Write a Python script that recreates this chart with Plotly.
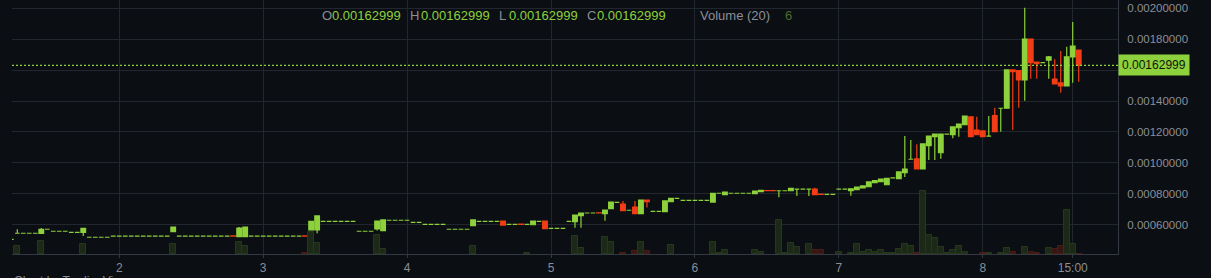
import plotly.graph_objects as go
import pandas as pd

# ---------------- data (hourly candles, day 1 06:00 -> day 8 16:00) ----------------
BASE = pd.Timestamp("2018-01-01")
first_hour = 6

open_ = [
    0.000505, 0.000544, 0.000544, 0.000544, 0.000544, 0.000543, 0.000570, 0.000557, 0.000557, 0.000557,
    0.000550, 0.000550, 0.000550, 0.000518, 0.000518, 0.000518, 0.000518, 0.000526, 0.000526, 0.000526,
    0.000526, 0.000526, 0.000526, 0.000526, 0.000526, 0.000526, 0.000526, 0.000554, 0.000526, 0.000526,
    0.000526, 0.000526, 0.000526, 0.000526, 0.000526, 0.000526, 0.000526, 0.000527, 0.000522, 0.000522,
    0.000526, 0.000526, 0.000526, 0.000526, 0.000526, 0.000526, 0.000526, 0.000526, 0.000526, 0.000527,
    0.000565, 0.000565, 0.000621, 0.000621, 0.000621, 0.000621, 0.000621, 0.000621, 0.000557, 0.000557,
    0.000557, 0.000572, 0.000561, 0.000628, 0.000628, 0.000628, 0.000628, 0.000615, 0.000615, 0.000602,
    0.000602, 0.000602, 0.000602, 0.000570, 0.000570, 0.000570, 0.000570, 0.000593, 0.000621, 0.000621,
    0.000621, 0.000621, 0.000623, 0.000602, 0.000602, 0.000603, 0.000602, 0.000599, 0.000621, 0.000623,
    0.000576, 0.000576, 0.000576, 0.000621, 0.000619, 0.000658, 0.000675, 0.000675, 0.000676, 0.000671,
    0.000703, 0.000744, 0.000733, 0.000693, 0.000714, 0.000671, 0.000759, 0.000686, 0.000686, 0.000684,
    0.000748, 0.000770, 0.000757, 0.000757, 0.000757, 0.000757, 0.000757, 0.000746, 0.000803, 0.000794,
    0.000803, 0.000803, 0.000803, 0.000803, 0.000800, 0.000814, 0.000820, 0.000820, 0.000819, 0.000819,
    0.000819, 0.000829, 0.000829, 0.000829, 0.000830, 0.000797, 0.000796, 0.000796, 0.000829, 0.000829,
    0.000819, 0.000826, 0.000837, 0.000845, 0.000871, 0.000878, 0.000858, 0.000902, 0.000897, 0.000936,
    0.001023, 0.001025, 0.000960, 0.001111, 0.001169, 0.001065, 0.001186, 0.001182, 0.001227, 0.001247,
    0.001298, 0.001212, 0.001206, 0.001173, 0.001305, 0.001353, 0.001353, 0.001601, 0.001596, 0.001536,
    0.001801, 0.001652, 0.001648, 0.001665, 0.001542, 0.001517, 0.001497, 0.001685, 0.001730,
]
high_ = [
    0.000505, 0.000570, 0.000544, 0.000544, 0.000544, 0.000578, 0.000570, 0.000557, 0.000557, 0.000557,
    0.000550, 0.000550, 0.000576, 0.000518, 0.000518, 0.000518, 0.000518, 0.000526, 0.000526, 0.000526,
    0.000526, 0.000526, 0.000526, 0.000526, 0.000526, 0.000526, 0.000526, 0.000584, 0.000526, 0.000526,
    0.000526, 0.000526, 0.000526, 0.000526, 0.000526, 0.000526, 0.000526, 0.000527, 0.000584, 0.000584,
    0.000526, 0.000526, 0.000526, 0.000526, 0.000526, 0.000526, 0.000526, 0.000526, 0.000526, 0.000527,
    0.000621, 0.000656, 0.000621, 0.000621, 0.000621, 0.000621, 0.000621, 0.000621, 0.000557, 0.000557,
    0.000557, 0.000623, 0.000630, 0.000628, 0.000628, 0.000628, 0.000628, 0.000615, 0.000615, 0.000602,
    0.000602, 0.000602, 0.000602, 0.000570, 0.000570, 0.000570, 0.000570, 0.000630, 0.000621, 0.000621,
    0.000621, 0.000621, 0.000623, 0.000602, 0.000602, 0.000603, 0.000602, 0.000623, 0.000621, 0.000623,
    0.000576, 0.000576, 0.000576, 0.000621, 0.000662, 0.000675, 0.000675, 0.000675, 0.000676, 0.000694,
    0.000746, 0.000744, 0.000753, 0.000693, 0.000753, 0.000759, 0.000759, 0.000686, 0.000686, 0.000753,
    0.000770, 0.000770, 0.000757, 0.000757, 0.000757, 0.000757, 0.000757, 0.000803, 0.000803, 0.000811,
    0.000803, 0.000803, 0.000803, 0.000803, 0.000817, 0.000821, 0.000820, 0.000820, 0.000819, 0.000819,
    0.000835, 0.000829, 0.000829, 0.000829, 0.000839, 0.000797, 0.000796, 0.000796, 0.000829, 0.000829,
    0.000832, 0.000843, 0.000850, 0.000876, 0.000884, 0.000895, 0.000900, 0.000902, 0.000941, 0.001173,
    0.001148, 0.001120, 0.001122, 0.001173, 0.001186, 0.001186, 0.001186, 0.001232, 0.001251, 0.001303,
    0.001298, 0.001298, 0.001206, 0.001303, 0.001357, 0.001353, 0.001601, 0.001601, 0.001596, 0.002004,
    0.001801, 0.001652, 0.001648, 0.001691, 0.001670, 0.001724, 0.001751, 0.001911, 0.001730,
]
low_ = [
    0.000505, 0.000544, 0.000544, 0.000544, 0.000544, 0.000543, 0.000570, 0.000557, 0.000557, 0.000557,
    0.000550, 0.000550, 0.000526, 0.000518, 0.000518, 0.000518, 0.000518, 0.000526, 0.000526, 0.000526,
    0.000526, 0.000526, 0.000526, 0.000526, 0.000526, 0.000526, 0.000526, 0.000554, 0.000526, 0.000526,
    0.000526, 0.000526, 0.000526, 0.000526, 0.000526, 0.000526, 0.000526, 0.000526, 0.000522, 0.000522,
    0.000526, 0.000526, 0.000526, 0.000526, 0.000526, 0.000526, 0.000526, 0.000526, 0.000526, 0.000526,
    0.000565, 0.000544, 0.000621, 0.000621, 0.000621, 0.000621, 0.000621, 0.000621, 0.000557, 0.000557,
    0.000557, 0.000561, 0.000561, 0.000628, 0.000628, 0.000628, 0.000628, 0.000615, 0.000615, 0.000602,
    0.000602, 0.000602, 0.000602, 0.000570, 0.000570, 0.000570, 0.000570, 0.000593, 0.000621, 0.000621,
    0.000621, 0.000621, 0.000597, 0.000602, 0.000602, 0.000602, 0.000602, 0.000599, 0.000621, 0.000574,
    0.000576, 0.000576, 0.000576, 0.000621, 0.000580, 0.000580, 0.000675, 0.000675, 0.000675, 0.000625,
    0.000703, 0.000744, 0.000690, 0.000693, 0.000671, 0.000671, 0.000710, 0.000686, 0.000686, 0.000684,
    0.000748, 0.000770, 0.000757, 0.000757, 0.000757, 0.000757, 0.000757, 0.000746, 0.000803, 0.000794,
    0.000803, 0.000803, 0.000803, 0.000803, 0.000800, 0.000814, 0.000819, 0.000819, 0.000777, 0.000819,
    0.000819, 0.000785, 0.000829, 0.000785, 0.000794, 0.000796, 0.000796, 0.000796, 0.000829, 0.000829,
    0.000787, 0.000826, 0.000837, 0.000845, 0.000871, 0.000878, 0.000858, 0.000902, 0.000897, 0.000908,
    0.001023, 0.000960, 0.000960, 0.001018, 0.001018, 0.001027, 0.001186, 0.001159, 0.001169, 0.001247,
    0.001169, 0.001182, 0.001169, 0.001173, 0.001201, 0.001201, 0.001353, 0.001212, 0.001357, 0.001402,
    0.001544, 0.001544, 0.001648, 0.001544, 0.001510, 0.001454, 0.001497, 0.001518, 0.001525,
]
close_ = [
    0.000505, 0.000544, 0.000544, 0.000544, 0.000544, 0.000570, 0.000570, 0.000557, 0.000557, 0.000557,
    0.000550, 0.000550, 0.000576, 0.000518, 0.000518, 0.000518, 0.000518, 0.000526, 0.000526, 0.000526,
    0.000526, 0.000526, 0.000526, 0.000526, 0.000526, 0.000526, 0.000526, 0.000584, 0.000526, 0.000526,
    0.000526, 0.000526, 0.000526, 0.000526, 0.000526, 0.000526, 0.000526, 0.000526, 0.000578, 0.000584,
    0.000526, 0.000526, 0.000526, 0.000526, 0.000526, 0.000526, 0.000526, 0.000526, 0.000526, 0.000526,
    0.000621, 0.000656, 0.000621, 0.000621, 0.000621, 0.000621, 0.000621, 0.000621, 0.000557, 0.000557,
    0.000557, 0.000623, 0.000630, 0.000628, 0.000628, 0.000628, 0.000628, 0.000615, 0.000615, 0.000602,
    0.000602, 0.000602, 0.000602, 0.000570, 0.000570, 0.000570, 0.000570, 0.000630, 0.000621, 0.000621,
    0.000621, 0.000621, 0.000597, 0.000602, 0.000602, 0.000602, 0.000602, 0.000623, 0.000621, 0.000574,
    0.000576, 0.000576, 0.000576, 0.000621, 0.000662, 0.000675, 0.000675, 0.000675, 0.000675, 0.000694,
    0.000746, 0.000744, 0.000690, 0.000693, 0.000671, 0.000759, 0.000748, 0.000686, 0.000686, 0.000753,
    0.000770, 0.000770, 0.000757, 0.000757, 0.000757, 0.000757, 0.000757, 0.000803, 0.000803, 0.000811,
    0.000803, 0.000803, 0.000803, 0.000803, 0.000817, 0.000821, 0.000819, 0.000819, 0.000819, 0.000819,
    0.000835, 0.000829, 0.000829, 0.000829, 0.000794, 0.000796, 0.000796, 0.000796, 0.000829, 0.000829,
    0.000832, 0.000843, 0.000850, 0.000876, 0.000884, 0.000895, 0.000900, 0.000902, 0.000941, 0.000960,
    0.001023, 0.000960, 0.001122, 0.001173, 0.001186, 0.001186, 0.001186, 0.001232, 0.001251, 0.001303,
    0.001169, 0.001182, 0.001169, 0.001173, 0.001201, 0.001353, 0.001601, 0.001590, 0.001536, 0.001801,
    0.001648, 0.001641, 0.001648, 0.001685, 0.001510, 0.001497, 0.001685, 0.001756, 0.00162999,
]

vol_hours = [7, 11, 18, 33, 44, 45, 55, 56, 57, 67, 68, 83, 92, 100, 101, 105, 106, 108, 110, 111,
             112, 116, 123, 124, 125, 130, 131, 134, 135, 136, 137, 139, 140, 141, 144, 146, 147, 148, 149, 150,
             151, 152, 153, 154, 155, 156, 157, 158, 159, 160, 161, 162, 163, 164, 165, 168, 169, 171, 172, 173,
             175, 176, 177, 179, 180, 181, 182, 183, 184]
vol_values = [8, 13, 10, 10, 12, 8, 1, 22, 11, 19, 5, 8, 1, 18, 6, 17, 12, 1, 3, 12,
              3, 9, 12, 1, 4, 4, 2, 34, 1, 11, 7, 10, 4, 4, 2, 1, 10, 2, 4, 2,
              4, 1, 1, 5, 10, 8, 1, 63, 19, 16, 7, 1, 4, 8, 2, 1, 1, 1, 6, 2,
              7, 2, 1, 6, 5, 8, 44, 10, 0.5]

x_tick_hours = [24, 48, 72, 96, 120, 144, 168, 183]
x_tick_text = ["2", "3", "4", "5", "6", "7", "8", "15:00"]
y_ticks = [0.0006, 0.0008, 0.0010, 0.0012, 0.0014, 0.0016, 0.0018, 0.0020]
legend_volume_text = "6"

# ---------------- styling ----------------
BG = "#0b0e13"
GRID = "#22262e"
AXIS = "#333842"
GREEN = "#8dd13c"
RED = "#f23d16"
TXT = "#8a8e97"
FONT = "Liberation Sans"

n = len(open_)
hours = list(range(first_hour, first_hour + n))
times = [BASE + pd.Timedelta(hours=h) for h in hours]
is_down = [c < o for o, c in zip(open_, close_)]
down_by_hour = dict(zip(hours, is_down))

def subset(flag):
    idx = [i for i in range(n) if is_down[i] == flag]
    return ([times[i] for i in idx], [open_[i] for i in idx], [high_[i] for i in idx],
            [low_[i] for i in idx], [close_[i] for i in idx])

fig = go.Figure()

# volume (hidden overlay axis)
vx = [BASE + pd.Timedelta(hours=h) for h in vol_hours]
vcol = ["#361612" if down_by_hour.get(h, False) else "#1b2916" for h in vol_hours]
vline = ["#4a1c14" if down_by_hour.get(h, False) else "#25381b" for h in vol_hours]
fig.add_trace(go.Bar(x=vx, y=vol_values, yaxis="y2", marker=dict(color=vcol, line=dict(color=vline, width=1)),
                     width=[3600 * 1000 * 0.95] * len(vx), hoverinfo="skip", showlegend=False))

for flag, col in [(False, GREEN), (True, RED)]:
    tx, o, h, l, c = subset(flag)
    fig.add_trace(go.Candlestick(
        x=tx, open=o, high=h, low=l, close=c, yaxis="y",
        increasing=dict(line=dict(color=col, width=1.2), fillcolor=col),
        decreasing=dict(line=dict(color=col, width=1.2), fillcolor=col),
        whiskerwidth=0, showlegend=False, hoverinfo="skip"))

last_price = close_[-1]

L, R, T, B = 12, 93, 0, 24
W, H = 1211, 278
PW, PH = W - L - R, H - T - B

def pxx(p):
    return (p - L) / PW

def pyy(p):
    return (T + PH - p) / PH

fig.update_layout(
    width=W, height=H, margin=dict(l=L, r=R, t=T, b=B),
    paper_bgcolor=BG, plot_bgcolor=BG,
    font=dict(family=FONT, color=TXT, size=12),
    showlegend=False, bargap=0, boxgap=0.22, boxgroupgap=0,
    xaxis=dict(
        type="date",
        range=[BASE + pd.Timedelta(hours=6.117), BASE + pd.Timedelta(hours=190.55)],
        tickvals=[BASE + pd.Timedelta(hours=h) for h in x_tick_hours], ticktext=x_tick_text,
        showgrid=True, gridcolor=GRID, gridwidth=1,
        showline=True, linecolor=AXIS, linewidth=1,
        ticks="outside", ticklen=3, tickcolor=AXIS,
        tickfont=dict(family=FONT, size=12, color=TXT),
        rangeslider=dict(visible=False), zeroline=False, fixedrange=True,
    ),
    yaxis=dict(
        side="right", range=[0.0004097, 0.0020537],
        tickvals=y_ticks, ticktext=[f"{v:.8f}" for v in y_ticks],
        showgrid=True, gridcolor=GRID, gridwidth=1,
        showline=True, linecolor=AXIS, linewidth=1,
        ticks="", ticklabelstandoff=6,
        tickfont=dict(family=FONT, size=11.5, color=TXT), zeroline=False,
    ),
    yaxis2=dict(overlaying="y", range=[0, PH], visible=False, showgrid=False, zeroline=False),
)

# last price line
fig.add_shape(type="line", xref="paper", yref="y", x0=0, x1=1, y0=last_price, y1=last_price,
              line=dict(color=GREEN, width=1.3, dash="2px,2px"))

# last price label
fig.add_annotation(xref="paper", yref="y", x=1, y=last_price, xanchor="left", yanchor="middle",
                   text=f"{last_price:.8f}", showarrow=False, bgcolor=GREEN, borderpad=3,
                   font=dict(family=FONT, size=12, color="#10140c"))

# OHLC legend
legend_items = [
    ("O", 320, TXT), (f"{last_price:.8f}", 330, GREEN),
    ("H", 408, TXT), (f"{last_price:.8f}", 419, GREEN),
    ("L", 497, TXT), (f"{last_price:.8f}", 507, GREEN),
    ("C", 585, TXT), (f"{last_price:.8f}", 595, GREEN),
    ("Volume (20)", 698, TXT), (legend_volume_text, 783, "#4d6b2c"),
]
for text, xp, col in legend_items:
    fig.add_annotation(xref="paper", yref="paper", x=pxx(xp), y=pyy(15.5), xanchor="left", yanchor="middle",
                       text=text, showarrow=False, font=dict(family=FONT, size=13, color=col))

fig.add_annotation(xref="paper", yref="paper", x=pxx(12), y=pyy(272), xanchor="left", yanchor="top",
                   text="Chart by TradingView", showarrow=False, font=dict(family=FONT, size=12, color=TXT))

fig.write_html("out.html")
